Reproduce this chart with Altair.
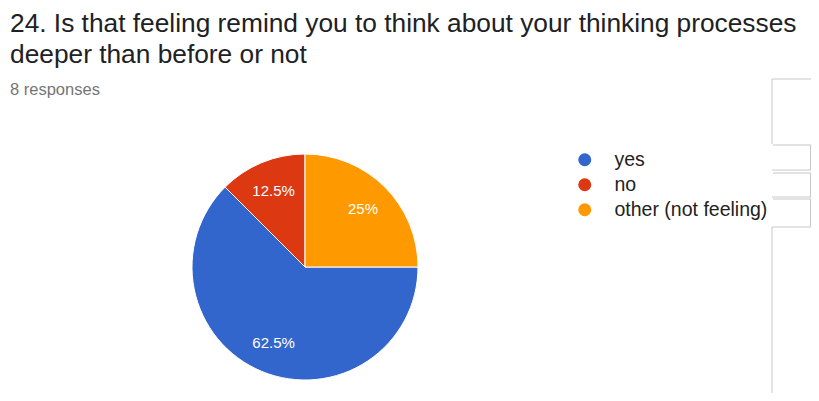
import altair as alt
import pandas as pd

categories = ["yes", "no", "other (not feeling)"]
counts = [5, 1, 2]
labels = ["62.5%", "12.5%", "25%"]
draw_order = [1, 2, 0]  # clockwise from 12 o'clock: other, yes, no
colors = ["#3366cc", "#dc3912", "#ff9900"]

title_lines = ["24. Is that feeling remind you to think about your thinking processes",
               "deeper than before or not"]
subtitle = "8 responses"

df = pd.DataFrame({"answer": categories, "count": counts, "label": labels, "ord": draw_order})

FONT = "Liberation Sans"
CX, CY = 297, 259

color = alt.Color("answer:N", sort=categories,
                  scale=alt.Scale(domain=categories, range=colors),
                  legend=alt.Legend(title=None, orient="none", legendX=567, legendY=142,
                                    symbolType="circle", symbolSize=170, symbolStrokeWidth=0,
                                    labelFont=FONT, labelFontSize=19.5, labelColor="#222222",
                                    labelOffset=20, rowPadding=4))

base = alt.Chart(df).encode(
    theta=alt.Theta("count:Q", stack=True),
    order=alt.Order("ord:Q"),
)

pie = base.mark_arc(radius=113, stroke="white", strokeWidth=1).encode(
    color=color, x=alt.value(CX), y=alt.value(CY))

txt = base.mark_text(radius=82, font=FONT, fontSize=15, color="white").encode(
    text="label:N", x=alt.value(CX), y=alt.value(CY))

one = pd.DataFrame({"a": [0]})
t1 = alt.Chart(one).mark_text(text=title_lines[0], font=FONT, fontSize=26.3, align="left",
                               baseline="alphabetic", color="#202124").encode(
    x=alt.value(2), y=alt.value(24))
t2 = alt.Chart(one).mark_text(text=title_lines[1], font=FONT, fontSize=26.3, align="left",
                               baseline="alphabetic", color="#202124").encode(
    x=alt.value(2), y=alt.value(55))
t3 = alt.Chart(one).mark_text(text=subtitle, font=FONT, fontSize=16.5, align="left",
                               baseline="alphabetic", color="#757575").encode(
    x=alt.value(2), y=alt.value(87))

hsegs = [  # (x1, x2, y)
    (764, 803, 71),
    (765, 803, 137), (764, 803, 162),
    (765, 803, 165), (764, 803, 189),
    (765, 803, 191), (764, 803, 219),
]
vsegs = [  # (x, y1, y2)
    (764, 71, 136),
    (802.5, 137, 162), (802.5, 165, 189), (802.5, 191, 219),
    (764, 219, 385),
]
rules = [alt.Chart(one).mark_rule(color="#c8c8c8", strokeWidth=1).encode(
    x=alt.value(a), x2=alt.value(b), y=alt.value(c)) for a, b, c in hsegs]
rules += [alt.Chart(one).mark_rule(color="#c8c8c8", strokeWidth=1).encode(
    x=alt.value(a), y=alt.value(b), y2=alt.value(c)) for a, b, c in vsegs]

chart = alt.layer(pie, txt, t1, t2, t3, *rules).properties(
    width=803, height=385, padding=0, autosize=alt.AutoSizeParams(type="none")
).configure_view(stroke=None)

chart.save("out.html", embed_options={"renderer": "svg", "actions": False})
